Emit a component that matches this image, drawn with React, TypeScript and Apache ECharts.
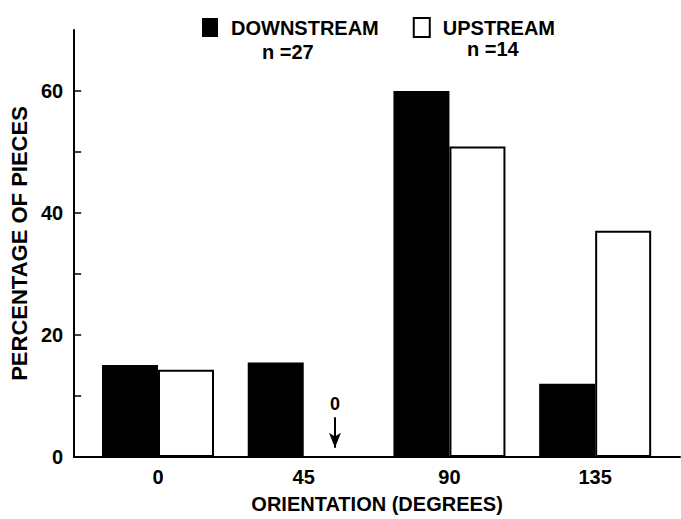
import React, { useEffect, useRef } from "react";
import * as echarts from "echarts";

const orientations = [0, 45, 90, 135];
const downstream = [15.1, 15.5, 60, 12.0];
const upstream = [14.3, 0, 50.9, 37.1];
const yLabelValues = [0, 20, 40, 60];
const yTickValues = [0, 10, 20, 30, 40, 50, 60];
const seriesNames = ["DOWNSTREAM", "UPSTREAM"];
const sampleSizes = ["n =27", "n =14"];
const zeroNote = { label: "0", x: 46, yFrom: 6.5, yTo: 1.5 };

const FONT = "'Liberation Sans', Arial, Helvetica, sans-serif";

export default function App() {
  const ref = useRef<HTMLDivElement>(null);
  useEffect(() => {
    if (!ref.current) return;
    const chart = echarts.init(ref.current, null, { renderer: "svg" });
    const ds = orientations.map((o, i) => [o, downstream[i]]);
    const us = orientations.map((o, i) => [o, upstream[i]]);
    chart.setOption({
      animation: false,
      backgroundColor: "#fff",
      textStyle: { fontFamily: FONT },
      grid: { left: 73, right: 1, top: 30, bottom: 57, containLabel: false },
      legend: {
        left: 197,
        top: 12,
        itemWidth: 16,
        itemHeight: 19,
        itemGap: 34,
        icon: "rect",
        data: seriesNames,
        textStyle: {
          fontFamily: FONT,
          fontSize: 20,
          fontWeight: "bold",
          color: "#000",
          padding: [0, 0, 0, 8],
        },
      },
      graphic: [
        {
          type: "text",
          left: 262,
          top: 42,
          style: { text: sampleSizes[0], font: `bold 20px ${FONT}`, fill: "#000" },
        },
        {
          type: "text",
          left: 467,
          top: 39,
          style: { text: sampleSizes[1], font: `bold 20px ${FONT}`, fill: "#000" },
        },
      ],
      xAxis: {
        type: "value",
        min: -25.9,
        max: 161.2,
        name: "ORIENTATION (DEGREES)",
        nameLocation: "middle",
        nameGap: 37,
        nameTextStyle: { fontFamily: FONT, fontSize: 20, fontWeight: "bold", color: "#000" },
        axisLine: { show: true, onZero: false, lineStyle: { color: "#000", width: 2 } },
        axisTick: { show: false },
        splitLine: { show: false },
        axisLabel: {
          customValues: orientations,
          fontFamily: FONT,
          fontSize: 20,
          fontWeight: "bold",
          color: "#000",
          margin: 10,
        },
      },
      yAxis: {
        type: "value",
        min: 0,
        max: 70,
        interval: 10,
        name: "PERCENTAGE OF PIECES",
        nameLocation: "middle",
        nameGap: 29,
        nameRotate: 90,
        nameTextStyle: { fontFamily: FONT, fontSize: 22, fontWeight: "bold", color: "#000" },
        axisLine: { show: true, onZero: false, lineStyle: { color: "#000", width: 2 } },
        axisTick: {
          show: true,
          inside: true,
          length: 7,
          customValues: yTickValues,
          lineStyle: { color: "#000", width: 1.5 },
        },
        splitLine: { show: false },
        axisLabel: {
          customValues: yLabelValues,
          fontFamily: FONT,
          fontSize: 20,
          fontWeight: "bold",
          color: "#000",
          margin: 11,
        },
      },
      series: [
        {
          name: seriesNames[0],
          type: "bar",
          data: ds,
          barWidth: 56,
          barGap: "0%",
          itemStyle: { color: "#000", borderColor: "#000", borderWidth: 0 },
        },
        {
          name: seriesNames[1],
          type: "bar",
          data: us,
          barWidth: 56,
          barGap: "0%",
          itemStyle: { color: "#fff", borderColor: "#000", borderWidth: 2 },
          markLine: {
            silent: true,
            symbol: ["none", "arrow"],
            symbolSize: [9, 15],
            lineStyle: { color: "#000", width: 2, type: "solid" },
            label: {
              show: true,
              position: "start",
              formatter: zeroNote.label,
              fontFamily: FONT,
              fontSize: 18,
              fontWeight: "bold",
              color: "#000",
              distance: 4,
            },
            data: [
              [
                { coord: [zeroNote.x, zeroNote.yFrom] },
                { coord: [zeroNote.x, zeroNote.yTo] },
              ],
            ],
          },
        },
      ],
    });
    return () => chart.dispose();
  }, []);
  return (
    <div
      ref={ref}
      style={{ position: "absolute", left: 0, top: 0, width: 681, height: 519 }}
    />
  );
}
